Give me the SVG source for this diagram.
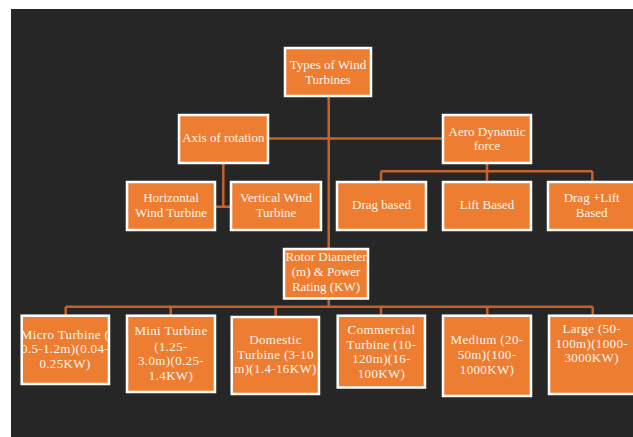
<svg xmlns="http://www.w3.org/2000/svg" width="633" height="437" viewBox="0 0 633 437">
<style>
.bx{fill:#ED7D31;stroke:#FFFFFF;stroke-width:2.5}
.c{fill:none;stroke:#C4622D;stroke-width:2.5}
text{font-family:"Liberation Serif","Times New Roman",serif;font-size:13px;fill:#FFF6EE;text-anchor:middle}
.w text{letter-spacing:0.35px}
</style>
<rect x="0" y="0" width="633" height="437" fill="#FFFFFF"/>
<rect x="11" y="9" width="622" height="428" fill="#262626"/>
<g id="connectors">
<path class="c" d="M328.7,97 V307"/>
<path class="c" d="M268,138.5 H442"/>
<path class="c" d="M223.3,164 V206.7 M216,206.7 H230"/>
<path class="c" d="M487,164 V181 M381,171.3 H592.3 M381,171.3 V181 M592.3,171.3 V181"/>
<path class="c" d="M65.7,306.7 H592.7 M65.7,306.7 V315 M170.7,306.7 V315 M275.7,306.7 V316 M381,306.7 V315 M487.3,306.7 V315 M592.7,306.7 V315"/>
</g>
<g id="types"><rect class="bx" x="285" y="48" width="86" height="48"/><text x="328" y="68.5">Types of Wind</text><text x="328" y="83.5">Turbines</text></g>
<g id="axis"><rect class="bx" x="179" y="115" width="89" height="48"/><text x="223.3" y="142">Axis of rotation</text></g>
<g id="aero"><rect class="bx" x="443" y="115" width="88" height="48"/><text x="487" y="135.5">Aero Dynamic</text><text x="487" y="149.5">force</text></g>
<g id="horizontal"><rect class="bx" x="127" y="182" width="88" height="48"/><text x="171" y="202">Horizontal</text><text x="171" y="217">Wind Turbine</text></g>
<g id="vertical"><rect class="bx" x="231" y="182" width="90" height="48"/><text x="276" y="202">Vertical Wind</text><text x="276" y="217">Turbine</text></g>
<g id="drag"><rect class="bx" x="337" y="182" width="89" height="48"/><text x="381.5" y="208.5">Drag based</text></g>
<g id="lift"><rect class="bx" x="443" y="182" width="88" height="48"/><text x="487" y="208.5">Lift Based</text></g>
<g id="draglift"><rect class="bx" x="548" y="182" width="88" height="48"/><text x="591.7" y="202">Drag +Lift</text><text x="591.7" y="217">Based</text></g>
<g id="rotor"><rect class="bx" x="284" y="249" width="84" height="49.5"/><text x="326" y="261">Rotor Diameter</text><text x="326" y="276">(m) &amp; Power</text><text x="326" y="290.5">Rating (KW)</text></g>
<g id="micro" class="w"><rect class="bx" x="21.7" y="315.7" width="87.3" height="68.3"/><text x="65" y="338.5">Micro Turbine (</text><text x="65" y="353">0.5-1.2m)(0.04-</text><text x="65" y="367.5">0.25KW)</text></g>
<g id="mini" class="w"><rect class="bx" x="127" y="315.7" width="88" height="76.3"/><text x="171" y="335">Mini Turbine</text><text x="171" y="350.5">(1.25-</text><text x="171" y="365">3.0m)(0.25-</text><text x="171" y="379.5">1.4KW)</text></g>
<g id="domestic" class="w"><rect class="bx" x="231.7" y="317" width="87.3" height="77"/><text x="275.5" y="343.5">Domestic</text><text x="275.5" y="358.5">Turbine (3-10</text><text x="275.5" y="372.5">m)(1.4-16KW)</text></g>
<g id="commercial" class="w"><rect class="bx" x="337.7" y="315.7" width="87.3" height="71.8"/><text x="381.5" y="333.5">Commercial</text><text x="381.5" y="348.5">Turbine (10-</text><text x="381.5" y="363">120m)(16-</text><text x="381.5" y="377.5">100KW)</text></g>
<g id="medium" class="w"><rect class="bx" x="443" y="315.7" width="88" height="80.3"/><text x="487" y="344">Medium (20-</text><text x="487" y="359">50m)(100-</text><text x="487" y="373.5">1000KW)</text></g>
<g id="large" class="w"><rect class="bx" x="549" y="315.7" width="88" height="78.3"/><text x="591.7" y="332.5">Large (50-</text><text x="591.7" y="347.5">100m)(1000-</text><text x="591.7" y="362">3000KW)</text></g>
</svg>
